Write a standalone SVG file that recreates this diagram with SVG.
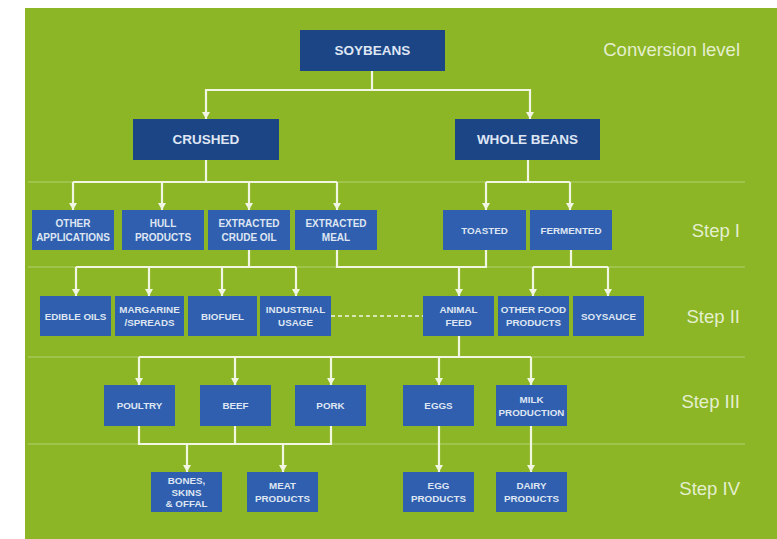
<svg xmlns="http://www.w3.org/2000/svg" width="777" height="539" viewBox="0 0 777 539">
<defs>
<style>
.bg{fill:#8cb625}
.sep{stroke:#c6dc96;stroke-width:1;opacity:0.7}
.dk{fill:#1c4586}
.md{fill:#2f5fae}
.con{fill:none;stroke:#f1f6e2;stroke-width:2.2}
.arr{fill:none;stroke:#f1f6e2;stroke-width:2.2;marker-end:url(#ah)}
.dash{fill:none;stroke:#f1f6e2;stroke-width:1.5;stroke-dasharray:4 3}
.t1{font-family:"Liberation Sans",Arial,sans-serif;font-weight:bold;font-size:13.5px;fill:#dfe6f3;text-anchor:middle;dominant-baseline:central}
.t2{font-family:"Liberation Sans",Arial,sans-serif;font-weight:bold;font-size:10px;fill:#dfe6f3;text-anchor:middle;dominant-baseline:central}
.t3{font-family:"Liberation Sans",Arial,sans-serif;font-weight:bold;font-size:9.8px;fill:#dfe6f3;text-anchor:middle;dominant-baseline:central}
.lvl{font-family:"Liberation Sans",Arial,sans-serif;font-size:18.5px;fill:#e4efcf;text-anchor:end;dominant-baseline:central}
</style>
<marker id="ah" markerUnits="userSpaceOnUse" markerWidth="8" markerHeight="8" viewBox="0 0 8 8" refX="4" refY="8" orient="0">
<path d="M0,1 L8,1 L4,8 Z" fill="#f1f6e2"/>
</marker>
</defs>
<rect width="777" height="539" fill="#ffffff"/>
<rect class="bg" x="25" y="8" width="752" height="531"/>
<g id="separators">
<line class="sep" x1="28" y1="182" x2="745" y2="182"/>
<line class="sep" x1="28" y1="267" x2="745" y2="267"/>
<line class="sep" x1="28" y1="357" x2="745" y2="357"/>
<line class="sep" x1="28" y1="444" x2="745" y2="444"/>
</g>
<g id="levels">
<text class="lvl" x="740" y="49">Conversion level</text>
<text class="lvl" x="740" y="230">Step I</text>
<text class="lvl" x="740" y="316">Step II</text>
<text class="lvl" x="740" y="401">Step III</text>
<text class="lvl" x="740" y="488">Step IV</text>
</g>
<g id="connectors">
<path class="arr" d="M372,71 V90 H206 V119"/>
<path class="arr" d="M372,90 H530 V119"/>
<path class="con" d="M206,160 V182"/>
<path class="con" d="M73,182 H337"/>
<path class="arr" d="M73,182 V210"/>
<path class="arr" d="M162,182 V210"/>
<path class="arr" d="M249,182 V210"/>
<path class="arr" d="M337,182 V210"/>
<path class="con" d="M528,160 V182"/>
<path class="con" d="M486,182 H570"/>
<path class="arr" d="M486,182 V210"/>
<path class="arr" d="M570,182 V210"/>
<path class="con" d="M249,250 V267"/>
<path class="con" d="M76,267 H296"/>
<path class="arr" d="M76,267 V296"/>
<path class="arr" d="M149,267 V296"/>
<path class="arr" d="M222,267 V296"/>
<path class="arr" d="M296,267 V296"/>
<path class="con" d="M337,250 V267 H486 V250"/>
<path class="arr" d="M459,267 V296"/>
<path class="con" d="M571,250 V267"/>
<path class="con" d="M533,267 H608"/>
<path class="arr" d="M533,267 V296"/>
<path class="arr" d="M608,267 V296"/>
<path class="dash" d="M331,316 H423"/>
<path class="con" d="M459,336 V357"/>
<path class="con" d="M139,357 H531"/>
<path class="arr" d="M139,357 V385"/>
<path class="arr" d="M235,357 V385"/>
<path class="arr" d="M331,357 V385"/>
<path class="arr" d="M439,357 V385"/>
<path class="arr" d="M531,357 V385"/>
<path class="con" d="M139,426 V444 H331 V426"/>
<path class="con" d="M235,426 V444"/>
<path class="arr" d="M187,444 V472"/>
<path class="arr" d="M283,444 V472"/>
<path class="arr" d="M439,426 V472"/>
<path class="arr" d="M531,426 V472"/>
</g>
<g id="soybeans"><rect class="dk" x="300" y="30" width="145" height="41"/><text class="t1" x="372.5" y="50.5">SOYBEANS</text></g>
<g id="crushed"><rect class="dk" x="133" y="119" width="146" height="41"/><text class="t1" x="206" y="139.5">CRUSHED</text></g>
<g id="whole-beans"><rect class="dk" x="455" y="119" width="145" height="41"/><text class="t1" x="527.5" y="139.5">WHOLE BEANS</text></g>
<g id="other-applications"><rect class="md" x="32" y="210" width="82" height="40"/><text class="t2" x="73" y="223.5">OTHER</text><text class="t2" x="73" y="237">APPLICATIONS</text></g>
<g id="hull-products"><rect class="md" x="122" y="210" width="82" height="40"/><text class="t2" x="163" y="223.5">HULL</text><text class="t2" x="163" y="237">PRODUCTS</text></g>
<g id="extracted-crude-oil"><rect class="md" x="208" y="210" width="82" height="40"/><text class="t2" x="249" y="223.5">EXTRACTED</text><text class="t2" x="249" y="237">CRUDE OIL</text></g>
<g id="extracted-meal"><rect class="md" x="295" y="210" width="82" height="40"/><text class="t2" x="336" y="223.5">EXTRACTED</text><text class="t2" x="336" y="237">MEAL</text></g>
<g id="toasted"><rect class="md" x="443" y="210" width="83" height="40"/><text class="t3" x="484.5" y="230">TOASTED</text></g>
<g id="fermented"><rect class="md" x="530" y="210" width="82" height="40"/><text class="t3" x="571" y="230">FERMENTED</text></g>
<g id="edible-oils"><rect class="md" x="40" y="296" width="71" height="40"/><text class="t3" x="75.5" y="316">EDIBLE OILS</text></g>
<g id="margarine"><rect class="md" x="115" y="296" width="69" height="40"/><text class="t3" x="149.5" y="309.5">MARGARINE</text><text class="t3" x="149.5" y="322.5">/SPREADS</text></g>
<g id="biofuel"><rect class="md" x="188" y="296" width="69" height="40"/><text class="t3" x="222.5" y="316">BIOFUEL</text></g>
<g id="industrial-usage"><rect class="md" x="260" y="296" width="71" height="40"/><text class="t3" x="295.5" y="309.5">INDUSTRIAL</text><text class="t3" x="295.5" y="322.5">USAGE</text></g>
<g id="animal-feed"><rect class="md" x="423" y="296" width="71" height="40"/><text class="t3" x="458.5" y="309.5">ANIMAL</text><text class="t3" x="458.5" y="322.5">FEED</text></g>
<g id="other-food-products"><rect class="md" x="498" y="296" width="71" height="40"/><text class="t3" x="533.5" y="309.5">OTHER FOOD</text><text class="t3" x="533.5" y="322.5">PRODUCTS</text></g>
<g id="soysauce"><rect class="md" x="573" y="296" width="71" height="40"/><text class="t3" x="608.5" y="316">SOYSAUCE</text></g>
<g id="poultry"><rect class="md" x="104" y="385" width="71" height="41"/><text class="t3" x="139.5" y="405.5">POULTRY</text></g>
<g id="beef"><rect class="md" x="200" y="385" width="71" height="41"/><text class="t3" x="235.5" y="405.5">BEEF</text></g>
<g id="pork"><rect class="md" x="295" y="385" width="71" height="41"/><text class="t3" x="330.5" y="405.5">PORK</text></g>
<g id="eggs"><rect class="md" x="403" y="385" width="71" height="41"/><text class="t3" x="438.5" y="405.5">EGGS</text></g>
<g id="milk-production"><rect class="md" x="496" y="385" width="71" height="41"/><text class="t3" x="531.5" y="399">MILK</text><text class="t3" x="531.5" y="412">PRODUCTION</text></g>
<g id="bones-skins-offal"><rect class="md" x="151" y="472" width="71" height="40"/><text class="t3" x="186.5" y="480.5">BONES,</text><text class="t3" x="186.5" y="492">SKINS</text><text class="t3" x="186.5" y="503.5">&amp; OFFAL</text></g>
<g id="meat-products"><rect class="md" x="247" y="472" width="71" height="40"/><text class="t3" x="282.5" y="485.5">MEAT</text><text class="t3" x="282.5" y="498.5">PRODUCTS</text></g>
<g id="egg-products"><rect class="md" x="403" y="472" width="71" height="40"/><text class="t3" x="438.5" y="485.5">EGG</text><text class="t3" x="438.5" y="498.5">PRODUCTS</text></g>
<g id="dairy-products"><rect class="md" x="496" y="472" width="71" height="40"/><text class="t3" x="531.5" y="485.5">DAIRY</text><text class="t3" x="531.5" y="498.5">PRODUCTS</text></g>
</svg>
